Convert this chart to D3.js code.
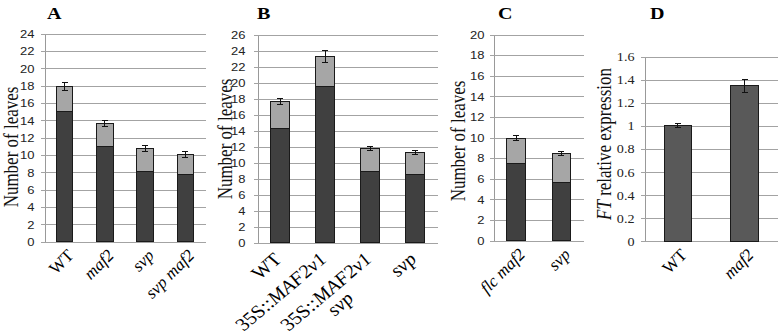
<!DOCTYPE html>
<meta charset="utf-8">
<style>
body { margin: 0; background: #fff; }
svg { display: block; }
.grid line { stroke: #a3a3a3; stroke-width: 1; shape-rendering: crispEdges; }
.grid path { stroke: #999; shape-rendering: crispEdges; }
.bar { stroke: #1a1a1a; stroke-width: 1; shape-rendering: crispEdges; }
.err { stroke: #111; stroke-width: 1; shape-rendering: crispEdges; }
</style>
<body>
<script src="https://cdn.jsdelivr.net/npm/d3@7"></script>
<script>

// panel A: leaf number (rosette + cauline)
var catsA = ["WT", "*maf2*", "*svp*", "*svp maf2*"];
var rosetteA = [15, 11, 8.05, 7.75];
var caulineA = [2.85, 2.6, 2.7, 2.3];
var errA = [0.45, 0.37, 0.33, 0.3];
var ticksA = [0, 2, 4, 6, 8, 10, 12, 14, 16, 18, 20, 22, 24];

// panel B
var catsB = ["WT", "35S::*MAF2v1*", "35S::*MAF2v1*|*svp*", "*svp*"];
var rosetteB = [14.2, 19.5, 8.9, 8.47];
var caulineB = [3.45, 3.8, 2.82, 2.8];
var errB = [0.37, 0.75, 0.25, 0.25];
var ticksB = [0, 2, 4, 6, 8, 10, 12, 14, 16, 18, 20, 22, 24, 26];

// panel C
var catsC = ["*flc maf2*", "*svp*"];
var rosetteC = [7.5, 5.6];
var caulineC = [2.45, 2.85];
var errC = [0.25, 0.2];
var ticksC = [0, 2, 4, 6, 8, 10, 12, 14, 16, 18, 20];

// panel D: FT expression
var catsD = ["WT", "*maf2*"];
var exprD = [1.0, 1.345];
var errD = [0.02, 0.055];
var ticksD = [0, 0.2, 0.4, 0.6, 0.8, 1, 1.2, 1.4, 1.6];

var SX = 1.18; // the figure is a bit wider than tall, text too

var svg = d3.select("body").append("svg")
    .attr("width", 780)
    .attr("height", 335);

// write "a *b* c" with italic parts
function rich(text, str) {
  str.split("*").forEach(function(part, i) {
    if (part === "") return;
    text.append("tspan").text(part).attr("font-style", i % 2 ? "italic" : null);
  });
}

function panel(p) {
  var g = svg.append("g");

  var x = d3.scaleBand()
      .domain(d3.range(p.cats.length))
      .range([p.left, p.right])
      .paddingInner(0.59)
      .paddingOuter(0.295);
  var y = d3.scaleLinear()
      .domain([0, p.max])
      .range([p.y0, p.yTop]);

  // gridlines + y axis
  var ax = g.append("g")
      .attr("class", "grid")
      .attr("transform", "translate(" + p.left + ",0)")
      .call(d3.axisLeft(y)
        .tickValues(p.ticks)
        .tickSizeInner(-(p.right - p.left))
        .tickSizeOuter(0)
        .tickFormat(p.fmt));
  ax.selectAll(".tick line").attr("x1", -4);
  ax.selectAll(".tick text")
      .attr("x", -p.gap / SX)
      .attr("dy", "0.35em")
      .attr("transform", "scale(" + SX + ",1)")
      .style("font-family", p.tickFont)
      .style("font-size", p.tickSize + "px")
      .attr("fill", "#222");

  // stacked bars
  var base = p.cats.map(function() { return 0; });
  p.stacks.forEach(function(vals, s) {
    g.selectAll(null)
        .data(vals)
      .enter().append("rect")
        .attr("class", "bar")
        .attr("x", function(d, i) { return x(i); })
        .attr("width", x.bandwidth())
        .attr("y", function(d, i) { return y(base[i] + d); })
        .attr("height", function(d, i) { return y(base[i]) - y(base[i] + d); })
        .attr("fill", p.colors[s]);
    base = base.map(function(b, i) { return b + vals[i]; });
  });

  // error bars on top of the stack
  var tops = base;
  p.err.forEach(function(e, i) {
    var cx = x(i) + x.bandwidth() / 2;
    g.append("line").attr("class", "err")
        .attr("x1", cx).attr("x2", cx)
        .attr("y1", y(tops[i] - e)).attr("y2", y(tops[i] + e));
    [tops[i] - e, tops[i] + e].forEach(function(v) {
      g.append("line").attr("class", "err")
          .attr("x1", cx - 3).attr("x2", cx + 3)
          .attr("y1", y(v)).attr("y2", y(v));
    });
  });

  // category labels, rotated
  p.cats.forEach(function(c, i) {
    var cx = x(i) + x.bandwidth() / 2;
    var lg = g.append("g")
        .attr("transform", "translate(" + (cx + p.labDx) + "," + (p.y0 + p.labDy) +
              ") scale(" + p.labSX + ",1) rotate(-45)")
        .style("font-family", "'Liberation Serif', 'Times New Roman', serif")
        .style("font-size", p.labSize + "px");
    var lines = c.split("|");
    var t1 = lg.append("text").attr("text-anchor", "end");
    rich(t1, lines[0]);
    if (lines.length > 1) {
      var len = t1.node().getComputedTextLength();
      var t2 = lg.append("text")
          .attr("text-anchor", "middle")
          .attr("x", -len / 2)
          .attr("y", 17);
      rich(t2, lines[1]);
    }
  });

  // y axis title
  var yl = g.append("text")
      .attr("text-anchor", "middle")
      .attr("transform", "translate(" + p.ylabX + "," + p.ylabY + ") scale(" + SX + ",1) rotate(-90)")
      .style("font-family", "'Liberation Serif', 'Times New Roman', serif")
      .style("font-size", "17px")
      .attr("fill", "#111");
  rich(yl, p.ylab);

  // panel letter
  g.append("text")
      .attr("transform", "translate(" + p.titleX + ",18.5) scale(" + SX + ",1)")
      .style("font-family", "'Liberation Serif', 'Times New Roman', serif")
      .style("font-size", "17px")
      .style("font-weight", "bold")
      .text(p.title);
}

var dark = "#404040", light = "#a6a6a6";
var sans = "'Liberation Sans', Arial, sans-serif";
var serif = "'Liberation Serif', 'Times New Roman', serif";

panel({ cats: catsA, stacks: [rosetteA, caulineA], colors: [dark, light], err: errA,
  left: 44.5, right: 205.5, y0: 241.5, yTop: 33.5, max: 24, ticks: ticksA, fmt: d3.format("d"),
  tickFont: sans, tickSize: 11, gap: 10, labDx: 10, labDy: 15, labSX: 1, labSize: 17,
  ylab: "Number of leaves", ylabX: 18, ylabY: 147, title: "A", titleX: 47 });

panel({ cats: catsB, stacks: [rosetteB, caulineB], colors: [dark, light], err: errB,
  left: 257.5, right: 437.5, y0: 242.5, yTop: 34.5, max: 26, ticks: ticksB, fmt: d3.format("d"),
  tickFont: sans, tickSize: 11, gap: 12, labDx: 3, labDy: 18, labSX: SX, labSize: 18,
  ylab: "Number of leaves", ylabX: 232, ylabY: 139, title: "B", titleX: 257 });

panel({ cats: catsC, stacks: [rosetteC, caulineC], colors: [dark, light], err: errC,
  left: 493.5, right: 584, y0: 240.5, yTop: 34.5, max: 20, ticks: ticksC, fmt: d3.format("d"),
  tickFont: sans, tickSize: 11, gap: 9, labDx: 10, labDy: 15, labSX: 1, labSize: 17,
  ylab: "Number of leaves", ylabX: 465, ylabY: 141, title: "C", titleX: 498 });

panel({ cats: catsD, stacks: [exprD], colors: ["#595959"], err: errD,
  left: 644.5, right: 778, y0: 241, yTop: 56.5, max: 1.6, ticks: ticksD,
  fmt: function(d) { return String(+d.toFixed(1)); },
  tickFont: serif, tickSize: 12, gap: 10, labDx: 10, labDy: 15, labSX: 1, labSize: 17,
  ylab: "*FT* relative expression", ylabX: 611, ylabY: 144, title: "D", titleX: 650 });

</script>
</body>
